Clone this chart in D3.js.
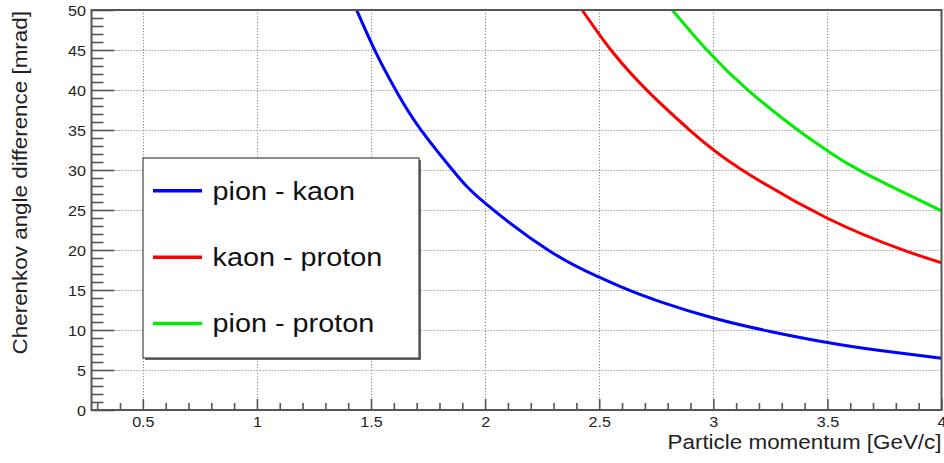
<!DOCTYPE html>
<html>
<head>
<meta charset="utf-8">
<script src="https://cdn.jsdelivr.net/npm/d3@7"></script>
<style>
  html, body { margin: 0; padding: 0; background: #fff; }
  svg { display: block; font-family: "Liberation Sans", Arial, Helvetica, sans-serif; }
</style>
</head>
<body>
<svg id="chart" width="944" height="463"></svg>
<script>
// Cherenkov angle difference between particle species vs momentum
const momentumTicks = [0.5, 1, 1.5, 2, 2.5, 3, 3.5, 4];
const angleTicks = [0, 5, 10, 15, 20, 25, 30, 35, 40, 45, 50];

const pionKaonP    = [1.437, 1.521, 1.611, 1.714, 1.86, 2.0, 2.284, 2.5, 2.62, 2.766, 3.0, 3.249, 3.5, 3.731, 4.0];
const pionKaonMrad = [50, 44.7, 39.85, 35.2, 29.9, 25.85, 19.85, 16.6, 15.1, 13.55, 11.5, 9.82, 8.44, 7.45, 6.46];

const kaonProtonP    = [2.425, 2.554, 2.715, 2.91, 3.116, 3.5, 3.833, 4.0];
const kaonProtonMrad = [50, 44.9, 39.8, 34.65, 30.2, 23.97, 19.99, 18.4];

const pionProtonP    = [2.82, 2.978, 3.153, 3.373, 3.5, 3.651, 4.0];
const pionProtonMrad = [50, 44.8, 39.95, 34.93, 32.4, 29.8, 24.9];

const seriesNames  = ["pion - kaon", "kaon - proton", "pion - proton"];
const seriesColors = ["#0000ff", "#ff0000", "#00ee00"];

const series = [
  pionKaonP.map((p, i) => [p, pionKaonMrad[i]]),
  kaonProtonP.map((p, i) => [p, kaonProtonMrad[i]]),
  pionProtonP.map((p, i) => [p, pionProtonMrad[i]])
];

const svg = d3.select("#chart");
const frame = { left: 91.5, right: 941.5, top: 10, bottom: 410 };
const SX = 1.15; // horizontal glyph stretch of the text face

const x = d3.scaleLinear().domain([0.275, 4]).range([frame.left, frame.right]);
const y = d3.scaleLinear().domain([0, 50]).range([frame.bottom, frame.top]);

const axisColor = "#555";

// grid
const grid = svg.append("g").attr("stroke", "#8a8a8a").attr("stroke-width", 1)
  .attr("stroke-dasharray", "1.2,1.8");
grid.selectAll("line.v").data(momentumTicks.filter(d => d < 4)).join("line")
  .attr("class", "v")
  .attr("x1", d => Math.round(x(d)) + 0.5).attr("x2", d => Math.round(x(d)) + 0.5)
  .attr("y1", frame.top).attr("y2", frame.bottom);
grid.selectAll("line.h").data(angleTicks.filter(d => d > 0 && d < 50)).join("line")
  .attr("class", "h")
  .attr("x1", frame.left).attr("x2", frame.right)
  .attr("y1", d => Math.round(y(d)) + 0.5).attr("y2", d => Math.round(y(d)) + 0.5);

// curves
svg.append("clipPath").attr("id", "plotClip").append("rect")
  .attr("x", frame.left).attr("y", frame.top)
  .attr("width", frame.right - frame.left).attr("height", frame.bottom - frame.top);

const line = d3.line().x(d => x(d[0])).y(d => y(d[1])).curve(d3.curveNatural);
svg.append("g").attr("clip-path", "url(#plotClip)")
  .selectAll("path").data(series).join("path")
  .attr("d", line)
  .attr("fill", "none")
  .attr("stroke", (d, i) => seriesColors[i])
  .attr("stroke-width", 3)
  .attr("stroke-linejoin", "round");

// axes
const xMinor = d3.range(3, 40).map(v => v / 10).filter(v => Math.round(v * 10) % 5 !== 0);
const yMinor = d3.range(1, 50).filter(v => v % 5 !== 0);

function styleAxis(g) {
  g.select(".domain").remove();
  g.selectAll(".tick line").attr("stroke", axisColor).attr("stroke-width", 1.6);
}

const gx = svg.append("g").attr("transform", `translate(0,${frame.bottom})`);
gx.call(d3.axisBottom(x).tickValues(xMinor).tickSize(-7).tickFormat("")).call(styleAxis);
const gxMaj = svg.append("g").attr("transform", `translate(0,${frame.bottom})`);
gxMaj.call(d3.axisBottom(x).tickValues(momentumTicks).tickSize(-11).tickPadding(6)
  .tickFormat(d => String(d))).call(styleAxis);
gxMaj.selectAll(".tick text")
  .attr("y", null).attr("dy", null)
  .attr("transform", `translate(0,16.5) scale(${SX},1)`)
  .attr("fill", "#222").style("font-size", "14px").style("font-family", "Liberation Sans, Arial, sans-serif");

const gy = svg.append("g").attr("transform", `translate(${frame.left},0)`);
gy.call(d3.axisLeft(y).tickValues(yMinor).tickSize(-12).tickFormat("")).call(styleAxis);
const gyMaj = svg.append("g").attr("transform", `translate(${frame.left},0)`);
gyMaj.call(d3.axisLeft(y).tickValues(angleTicks).tickSize(-23).tickFormat(d => String(d))).call(styleAxis);
gyMaj.selectAll(".tick text")
  .attr("x", null).attr("dy", null)
  .attr("transform", `translate(-5.5,5) scale(${SX},1)`)
  .attr("fill", "#222").style("font-size", "14px").style("font-family", "Liberation Sans, Arial, sans-serif");

// frame
svg.append("rect")
  .attr("x", frame.left).attr("y", frame.top)
  .attr("width", frame.right - frame.left).attr("height", frame.bottom - frame.top)
  .attr("fill", "none").attr("stroke", axisColor).attr("stroke-width", 2);

// axis titles
svg.append("text")
  .attr("transform", `translate(${frame.right},449) scale(${SX},1)`)
  .attr("text-anchor", "end").attr("fill", "#222").style("font-size", "19.5px")
  .text("Particle momentum [GeV/c]");
svg.append("text")
  .attr("transform", `translate(27,${frame.top + 1}) rotate(-90) scale(${SX},1)`)
  .attr("text-anchor", "end").attr("fill", "#222").style("font-size", "19.5px")
  .text("Cherenkov angle difference [mrad]");

// legend
const legend = { x0: 143, y0: 158, x1: 419, y1: 358 };
const lg = svg.append("g");
lg.append("rect")
  .attr("x", legend.x0 + 2).attr("y", legend.y0 + 2)
  .attr("width", legend.x1 - legend.x0).attr("height", legend.y1 - legend.y0)
  .attr("fill", "#666");
lg.append("rect")
  .attr("x", legend.x0).attr("y", legend.y0)
  .attr("width", legend.x1 - legend.x0).attr("height", legend.y1 - legend.y0)
  .attr("fill", "#fff").attr("stroke", "#444").attr("stroke-width", 1.2);

const entryY = [190.7, 257.3, 323.5];
const entries = lg.selectAll("g.entry").data(seriesNames).join("g").attr("class", "entry");
entries.append("line")
  .attr("x1", 153).attr("x2", 202)
  .attr("y1", (d, i) => entryY[i]).attr("y2", (d, i) => entryY[i])
  .attr("stroke", (d, i) => seriesColors[i]).attr("stroke-width", 3.5);
entries.append("text")
  .attr("transform", (d, i) => `translate(212.5,${entryY[i] + 8.8}) scale(1.13,1)`)
  .attr("fill", "#111").style("font-size", "25.5px")
  .text(d => d);
</script>
</body>
</html>
